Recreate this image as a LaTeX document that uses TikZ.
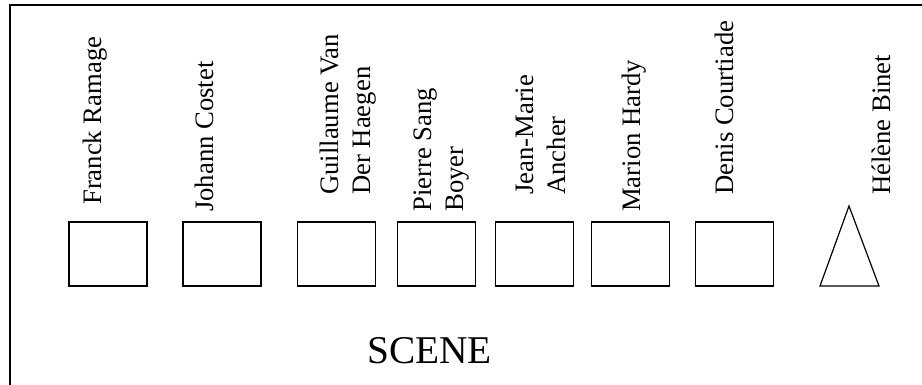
\documentclass[tikz,border=0pt]{standalone}
\usepackage{fontspec}
\setmainfont{Liberation Serif}
\begin{document}
\begin{tikzpicture}[x=0.75pt,y=-0.75pt,
  seat/.style={draw,line width=0.9pt,minimum width=58.5pt,minimum height=48pt,inner sep=0pt},
  lbl/.style={rotate=90,anchor=base west,inner sep=0pt,align=left,
              font=\fontsize{20pt}{24pt}\selectfont},
  frame/.style={line width=1.6pt},
  stage/.style={anchor=base west,inner sep=0pt,font=\fontsize{29.5pt}{34pt}\selectfont}]
  \useasboundingbox (0,0) rectangle (922,385);

  % edge of the room (left wall and back wall)
  \draw[frame] (10,390) -- (10,5) -- (930,5);

  % seats
  \node[seat] (s1) at (108,254) {};
  \node[seat] (s2) at (222,254) {};
  \node[seat] (s3) at (336.5,254) {};
  \node[seat] (s4) at (436.5,254) {};
  \node[seat] (s5) at (534.5,254) {};
  \node[seat] (s6) at (630.5,254) {};
  \node[seat] (s7) at (734.5,254) {};

  % the standing position
  \coordinate (tl) at (820,286);
  \coordinate (tt) at (849,206);
  \coordinate (tr) at (879,286);
  \draw[line width=0.9pt,line join=miter] (tl) -- (tt) -- (tr) -- cycle;

  % names (multi-line labels are placed by the baseline of their last line)
  \node[lbl] (n1) at (101.7,205) {Franck Ramage};
  \node[lbl] (n2) at (213,212) {Johann Costet};
  \node[lbl] (n3) at (370,195) {Guillaume Van\\Der Haegen};
  \node[lbl] (n4) at (463,212) {Pierre Sang\\Boyer};
  \node[lbl] (n5) at (565,195) {Jean-Marie\\Ancher};
  \node[lbl] (n6) at (640,212) {Marion Hardy};
  \node[lbl] (n7) at (733,195) {Denis Courtiade};
  \node[lbl] (n8) at (890,195) {Hélène Binet};

  \node[stage] (scene) at (367,363) {SCENE};
\end{tikzpicture}
\end{document}
